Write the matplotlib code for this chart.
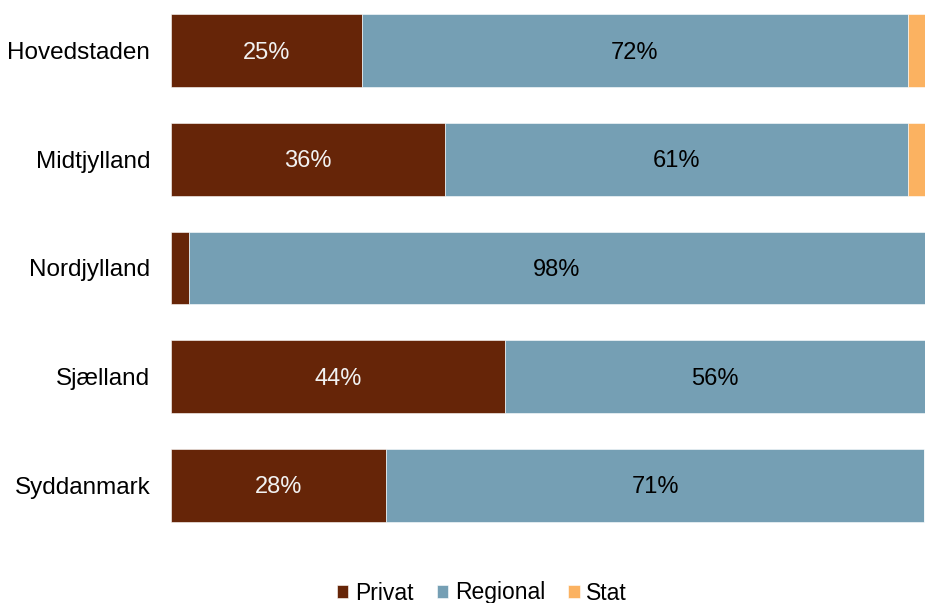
import numpy as np
import matplotlib.pyplot as plt

plt.rcParams['font.family'] = ['Liberation Sans', 'DejaVu Sans']

# shares per region, in percent
regions = ['Hovedstaden', 'Midtjylland', 'Nordjylland', 'Sjælland', 'Syddanmark']
privat = [25.3, 36.4, 2.4, 44.3, 28.5]
regional = [72.4, 61.4, 97.6, 55.7, 71.4]
stat = [2.3, 2.2, 0.0, 0.0, 0.0]

c_priv = '#662508'
c_reg = '#759fb4'
c_stat = '#fbb261'

fig = plt.figure(figsize=(9.25, 6.03), dpi=100)
ax = fig.add_axes([171/925, 58/603, 754/925, 545/603])

y = np.arange(len(regions))
h = 0.67
privat = np.array(privat)
regional = np.array(regional)
stat = np.array(stat)

b1 = ax.barh(y, privat, height=h, color=c_priv, edgecolor='white', linewidth=0.4, label='Privat')
b2 = ax.barh(y, regional, left=privat, height=h, color=c_reg, edgecolor='white', linewidth=0.4, label='Regional')
b3 = ax.barh(y, stat, left=privat + regional, height=h, color=c_stat, edgecolor='white', linewidth=0.4, label='Stat')

# value labels (small shares are left out)
for i in range(len(regions)):
    if privat[i] >= 5:
        ax.text(privat[i] / 2, y[i] + 0.02, '%d%%' % round(privat[i]), ha='center', va='center',
                color='#f2f2f2', fontsize=17)
    if regional[i] >= 5:
        ax.text(privat[i] + regional[i] / 2, y[i] + 0.02, '%d%%' % round(regional[i]), ha='center',
                va='center', color='black', fontsize=17)

ax.set_xlim(0, 100)
ax.set_ylim(4.549, -0.465)
ax.set_yticks(y)
ax.set_yticklabels(regions, fontsize=17.5)
ax.tick_params(axis='y', length=0, pad=15)
ax.set_xticks([])
for s in ax.spines.values():
    s.set_visible(False)

fig.legend(handles=[b1, b2, b3], loc='center', bbox_to_anchor=(482/925, 1 - 593/603), ncol=3,
           frameon=False, fontsize=16.5, handlelength=0.5, handleheight=0.5,
           handletextpad=0.3, columnspacing=1.0, borderaxespad=0)

fig.savefig('out.png', dpi=100)
